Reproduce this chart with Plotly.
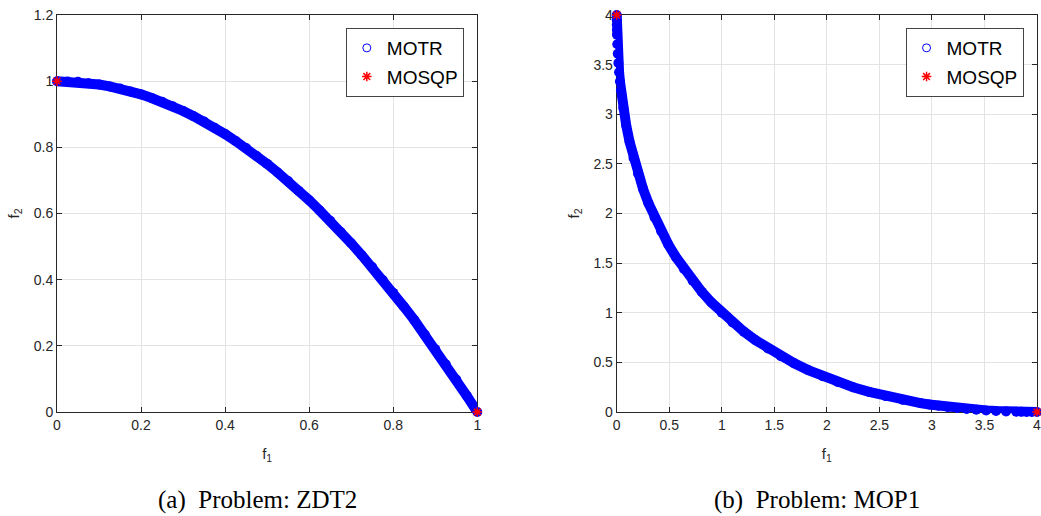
import plotly.graph_objects as go

# ---- data ----
zdt2_f1 = [0, 0.025, 0.05, 0.075, 0.1, 0.125, 0.15, 0.175, 0.2, 0.225, 0.25, 0.275,
           0.3, 0.325, 0.35, 0.375, 0.4, 0.425, 0.45, 0.475, 0.5, 0.525, 0.55, 0.575,
           0.6, 0.625, 0.65, 0.675, 0.7, 0.725, 0.75, 0.775, 0.8, 0.825, 0.85, 0.875,
           0.9, 0.925, 0.95, 0.975, 1.0]
zdt2_f2 = [1.0, 0.999, 0.998, 0.994, 0.99, 0.984, 0.978, 0.969, 0.96, 0.949, 0.938, 0.924,
           0.91, 0.894, 0.878, 0.859, 0.84, 0.819, 0.798, 0.774, 0.75, 0.724, 0.698, 0.669,
           0.64, 0.609, 0.578, 0.544, 0.51, 0.474, 0.438, 0.399, 0.36, 0.319, 0.278, 0.234,
           0.19, 0.144, 0.098, 0.049, 0.0]
zdt2_sqp_f1 = [0, 1]
zdt2_sqp_f2 = [1, 0]

mop1_f1 = [0, 0.0002, 0.0006, 0.0014, 0.0025, 0.0056, 0.01, 0.0156, 0.0225, 0.0306,
           0.04, 0.0625, 0.09, 0.1225, 0.16, 0.2025, 0.25,
           0.3025, 0.36, 0.4225, 0.49, 0.5625, 0.64, 0.7225, 0.81, 0.9025, 1.0,
           1.1025, 1.21, 1.3225, 1.44, 1.5625, 1.69, 1.8225, 1.96, 2.1025, 2.25,
           2.4025, 2.56, 2.7225, 2.89, 2.975, 3.0625, 3.15, 3.24, 3.3306, 3.4225, 3.5156, 3.61,
           3.7056, 3.8025, 3.8514, 3.9006, 3.9502, 4.0]
mop1_f2 = [4.0, 3.9502, 3.9006, 3.8514, 3.8025, 3.7056, 3.61, 3.5156, 3.4225, 3.3306,
           3.24, 3.0625, 2.89, 2.7225, 2.56, 2.4025, 2.25,
           2.1025, 1.96, 1.8225, 1.69, 1.5625, 1.44, 1.3225, 1.21, 1.1025, 1.0,
           0.9025, 0.81, 0.7225, 0.64, 0.5625, 0.49, 0.4225, 0.36, 0.3025, 0.25,
           0.2025, 0.16, 0.1225, 0.09, 0.0756, 0.0625, 0.0506, 0.04, 0.0306, 0.0225, 0.0156, 0.01,
           0.0056, 0.0025, 0.0014, 0.0006, 0.0002, 0.0]
mop1_sqp_f1 = [0, 4]
mop1_sqp_f2 = [4, 0]

left_xticks = [0, 0.2, 0.4, 0.6, 0.8, 1]
left_yticks = [0, 0.2, 0.4, 0.6, 0.8, 1, 1.2]
right_xticks = [0, 0.5, 1, 1.5, 2, 2.5, 3, 3.5, 4]
right_yticks = [0, 0.5, 1, 1.5, 2, 2.5, 3, 3.5, 4]

captions = ["(a)&nbsp; Problem: ZDT2", "(b)&nbsp; Problem: MOP1"]

BLUE = "#0000ff"
RED = "#ff0000"
AX = "#262626"
GRID = "#e3e3e3"
SANS = "Liberation Sans, Arial, sans-serif"

W, H = 1041, 516
ML, MR, MT, MB = 57, 0, 15, 104
PW = W - ML - MR
PH = H - MT - MB

def px_x(p):
    return (p - ML) / PW

def px_y(p):
    return 1 - (p - MT) / PH

fig = go.Figure()

def add_panel(f1, f2, sf1, sf2, xa, ya, legend):
    # solid band
    fig.add_trace(go.Scatter(x=f1, y=f2, mode="lines", xaxis=xa, yaxis=ya,
                             line=dict(color=BLUE, width=10), showlegend=False,
                             hoverinfo="skip"))
    fig.add_trace(go.Scatter(x=f1, y=f2, mode="markers", xaxis=xa, yaxis=ya,
                             marker=dict(symbol="circle", size=10, color=BLUE,
                                         line=dict(width=0)),
                             cliponaxis=False, showlegend=False, hoverinfo="skip"))
    # open circles (legend entry)
    fig.add_trace(go.Scatter(x=f1, y=f2, mode="markers", name="MOTR", xaxis=xa, yaxis=ya,
                             marker=dict(symbol="circle-open", size=8, color=BLUE,
                                         line=dict(color=BLUE, width=1)),
                             cliponaxis=False, legend=legend, legendgroup="a" + legend))
    fig.add_trace(go.Scatter(x=sf1, y=sf2, mode="markers", name="MOSQP", xaxis=xa, yaxis=ya,
                             marker=dict(symbol="asterisk-open", size=8, color=RED,
                                         line=dict(color=RED, width=1.5)),
                             cliponaxis=False, legend=legend, legendgroup="b" + legend))

add_panel(zdt2_f1, zdt2_f2, zdt2_sqp_f1, zdt2_sqp_f2, "x", "y", "legend")
add_panel(mop1_f1, mop1_f2, mop1_sqp_f1, mop1_sqp_f2, "x2", "y2", "legend2")

axis_common = dict(showline=True, linecolor=AX, linewidth=1, mirror="allticks",
                   ticks="inside", ticklen=5, tickcolor=AX, showgrid=True,
                   gridcolor=GRID, gridwidth=1, zeroline=False, layer="below traces",
                   tickfont=dict(family=SANS, size=14, color=AX))

title_font = dict(family=SANS, size=15, color=AX)

legend_common = dict(xanchor="left", yanchor="top", bgcolor="white",
                     bordercolor="#444444", borderwidth=1,
                     font=dict(family=SANS, size=19, color="black"), tracegroupgap=1)

fig.update_layout(
    width=W, height=H,
    margin=dict(l=ML, r=MR, t=MT, b=MB),
    plot_bgcolor="white", paper_bgcolor="white",
    xaxis=dict(domain=[0, px_x(479)], range=[0, 1], tickvals=left_xticks,
               title=dict(text="f<sub>1</sub>", font=title_font, standoff=16),
               anchor="y", **axis_common),
    yaxis=dict(domain=[0, 1], range=[0, 1.2], tickvals=left_yticks,
               title=dict(text="f<sub>2</sub>", font=title_font, standoff=10),
               anchor="x", **axis_common),
    xaxis2=dict(domain=[px_x(619), 1.0], range=[0, 4], tickvals=right_xticks,
                title=dict(text="f<sub>1</sub>", font=title_font, standoff=16),
                anchor="y2", ticklabeloverflow="allow", **axis_common),
    yaxis2=dict(domain=[0, 1], range=[0, 4], tickvals=right_yticks,
                title=dict(text="f<sub>2</sub>", font=title_font, standoff=10),
                anchor="x2", **axis_common),
    legend=dict(x=px_x(347), y=px_y(28), **legend_common),
    legend2=dict(x=px_x(909), y=px_y(28), **legend_common),
    annotations=[
        dict(text=captions[0], x=px_x(258), y=px_y(500), xref="paper", yref="paper",
             showarrow=False, font=dict(family="Liberation Serif, serif", size=25, color="black"),
             xanchor="center", yanchor="middle"),
        dict(text=captions[1], x=px_x(820), y=px_y(500), xref="paper", yref="paper",
             showarrow=False, font=dict(family="Liberation Serif, serif", size=25, color="black"),
             xanchor="center", yanchor="middle"),
    ],
)

fig.write_html("out.html")
